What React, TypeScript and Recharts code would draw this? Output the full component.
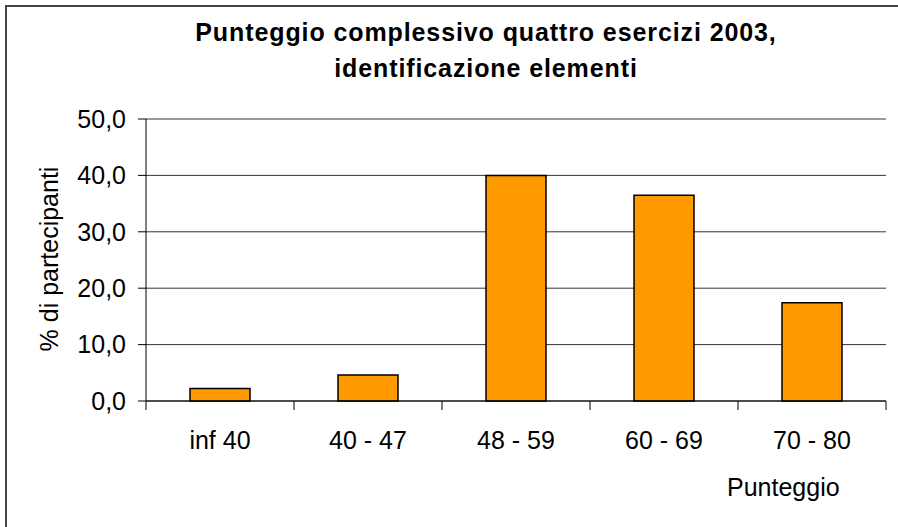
import { BarChart, Bar, XAxis, YAxis, CartesianGrid, LabelList } from 'recharts';

const categories = ['inf 40', '40 - 47', '48 - 59', '60 - 69', '70 - 80'];
const percentages = [2.2, 4.6, 40.0, 36.5, 17.4];
const yTicks = [0, 10, 20, 30, 40, 50];
const edgeTicks = [0, 1, 2, 3, 4, 5];

// each class sits in the middle of its slot on the 0..5 axis
const data = categories.map((name, i) => ({ name, pos: i + 0.5, value: percentages[i] }));

const FONT = '"Liberation Sans", Arial, sans-serif';
const xDomain = [0, 5];
const yDomain = [0, 50];
const tickStyle = { fontSize: 25, fill: '#000', fontFamily: FONT };
const emptyLabel = () => '';
const formatY = (v: number) => v.toFixed(1).replace('.', ',');

function YLabel(props: any) {
  const vb = props.viewBox || {};
  const x = vb.x + 58;
  const y = vb.y + vb.height / 2 - 1;
  return (
    <text
      x={x}
      y={y}
      transform={`rotate(-90, ${x}, ${y})`}
      textAnchor="middle"
      fontSize={25}
      fill="#000"
      fontFamily={FONT}
    >
      % di partecipanti
    </text>
  );
}

export default function App() {
  return (
    <div
      style={{
        position: 'absolute',
        left: 0,
        top: 0,
        width: 898,
        height: 527,
        overflow: 'hidden',
        background: '#fff',
        fontFamily: FONT,
      }}
    >
      <div
        style={{
          position: 'absolute',
          left: 5,
          top: 5,
          width: 900,
          height: 540,
          borderTop: '2px solid #444',
          borderLeft: '2px solid #444',
        }}
      />
      <div
        style={{
          position: 'absolute',
          left: 0,
          top: 14,
          width: 972,
          textAlign: 'center',
          fontWeight: 'bold',
          fontSize: 25,
          letterSpacing: 0.9,
          lineHeight: '36px',
          color: '#000',
        }}
      >
        Punteggio complessivo quattro esercizi 2003,
        <br />
        identificazione elementi
      </div>
      <div
        style={{
          position: 'absolute',
          left: 727,
          top: 475,
          fontSize: 25,
          lineHeight: '25px',
          color: '#000',
        }}
      >
        Punteggio
      </div>
      <BarChart
        width={898}
        height={527}
        data={data}
        margin={{ top: 119, right: 12, left: 0, bottom: 117 }}
      >
        <CartesianGrid vertical={false} stroke="#333" />
        <XAxis
          dataKey="pos"
          type="number"
          domain={xDomain}
          ticks={edgeTicks}
          interval={0}
          tickFormatter={emptyLabel}
          tickSize={9}
          height={9}
          axisLine={{ stroke: '#000' }}
          tickLine={{ stroke: '#000' }}
        />
        <YAxis
          width={146}
          domain={yDomain}
          ticks={yTicks}
          interval={0}
          tickFormatter={formatY}
          tickSize={8}
          tickMargin={12}
          axisLine={{ stroke: '#000' }}
          tickLine={{ stroke: '#000' }}
          tick={tickStyle}
          label={<YLabel />}
        />
        <Bar
          dataKey="value"
          fill="#FF9900"
          stroke="#000"
          strokeWidth={1.5}
          barSize={60}
          isAnimationActive={false}
        >
          <LabelList
            dataKey="name"
            position="bottom"
            offset={30}
            fill="#000"
            fontSize={25}
            fontFamily={FONT}
          />
        </Bar>
      </BarChart>
    </div>
  );
}
